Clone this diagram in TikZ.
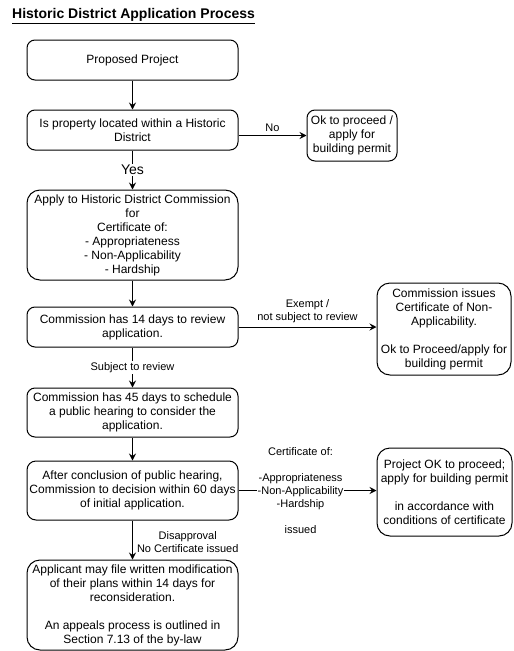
\documentclass[tikz,border=0pt]{standalone}
\usepackage{fontspec}
\setmainfont{Liberation Sans}
\usetikzlibrary{arrows.meta}
\begin{document}
\begin{tikzpicture}[x=1pt,y=-1pt,
  box/.style={draw, line width=1pt, align=center, inner sep=0pt, font=\fontsize{12}{14}\selectfont},
  conn/.style={line width=1pt, -{Stealth[length=7pt,width=7pt,inset=2.5pt]}},
  lbl/.style={font=\fontsize{11}{13}\selectfont, align=center, inner sep=1pt}]
\useasboundingbox (0,0) rectangle (514,651);

\node[anchor=west, inner sep=0pt, font=\fontsize{14}{16}\bfseries] (title) at (12,16) {\underline{Historic District Application Process}};

\node[box, rounded corners=8pt, minimum width=211pt, minimum height=40pt] (b1) at (132.5,60) {Proposed Project};
\node[box, rounded corners=8pt, minimum width=211pt, minimum height=40pt] (b2) at (132.5,130) {Is property located within a Historic\\District};
\node[box, rounded corners=8pt, minimum width=90pt, minimum height=51pt] (b3) at (352,135.5) {Ok to proceed /\\apply for\\building permit};
\node[box, rounded corners=13pt, minimum width=211pt, minimum height=90pt] (b4) at (132.5,235) {Apply to Historic District Commission\\for\\Certificate of:\\- Appropriateness\\- Non-Applicability\\- Hardship};
\node[box, rounded corners=8pt, minimum width=211pt, minimum height=40pt] (b5) at (132.5,327) {Commission has 14 days to review\\application.};
\node[box, rounded corners=13pt, minimum width=134pt, minimum height=92pt] (b6) at (444,329) {Commission issues\\Certificate of Non-\\Applicability.\\~\\Ok to Proceed/apply for\\building permit};
\node[box, rounded corners=8pt, minimum width=211pt, minimum height=49pt] (b7) at (132.5,412.5) {Commission has 45 days to schedule\\a public hearing to consider the\\application.};
\node[box, rounded corners=9pt, minimum width=211pt, minimum height=59pt] (b8) at (132.5,490.5) {After conclusion of public hearing,\\Commission to decision within 60 days\\of initial application.};
\node[box, rounded corners=13pt, minimum width=135pt, minimum height=88pt] (b9) at (444.5,492) {Project OK to proceed;\\apply for building permit\\~\\in accordance with\\conditions of certificate};
\node[box, rounded corners=13pt, minimum width=211pt, minimum height=90pt] (b10) at (132.5,605) {Applicant may file written modification\\of their plans within 14 days for\\reconsideration.\\~\\An appeals process is outlined in\\Section 7.13 of the by-law};

\draw[conn] (b1.south) -- (b2.north);
\draw[conn] (b2.south) -- node[lbl, fill=white, font=\fontsize{14}{16}\selectfont] {Yes} (b4.north);
\draw[conn] (b2.east |- b3.west) -- node[lbl, above=2pt] {No} (b3.west);
\draw[conn] (b4.south) -- (b5.north);
\draw[conn] (b5.east) -- node[lbl, above=3pt] {Exempt /\\not subject to review} (b6.west |- b5.east);
\draw[conn] (b5.south) -- node[lbl, fill=white] {Subject to review} (b7.north);
\draw[conn] (b7.south) -- (b8.north);
\draw[conn] (b8.east) -- node[lbl, fill=white, xshift=-7pt] {Certificate of:\\~\\-Appropriateness\\-Non-Applicability\\-Hardship\\~\\issued} (b9.west |- b8.east);
\draw[conn] (b8.south) -- node[lbl, right=3pt, yshift=-2pt] {Disapproval\\No Certificate issued} (b10.north);
\end{tikzpicture}
\end{document}
